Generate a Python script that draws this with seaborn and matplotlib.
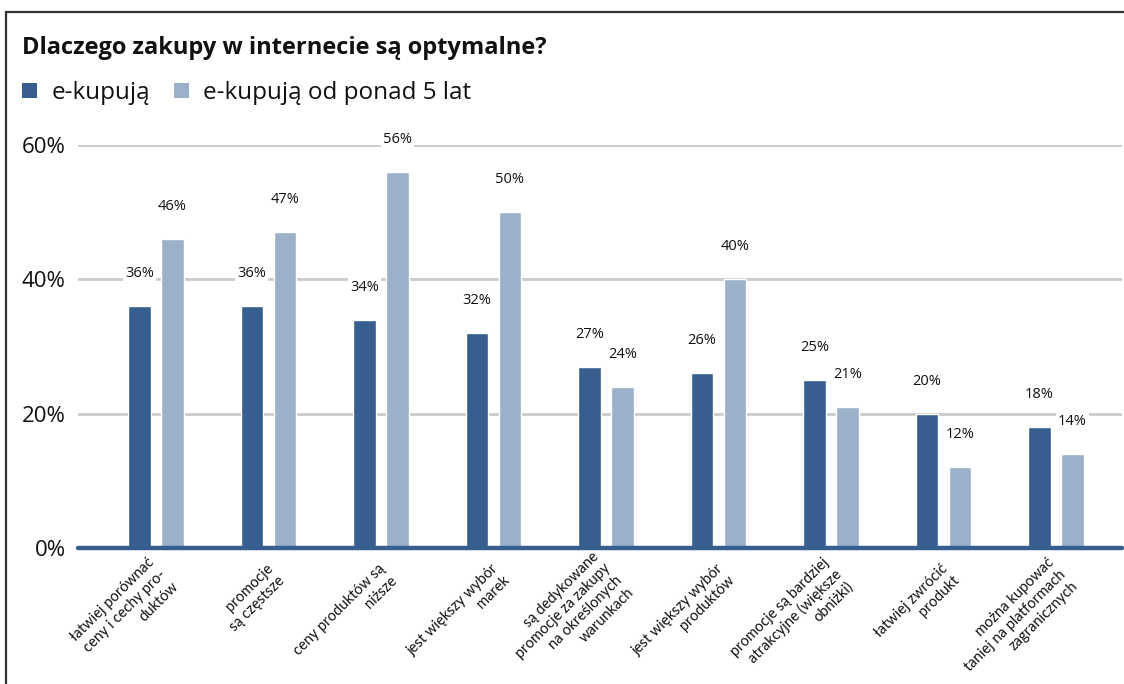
import matplotlib
matplotlib.use("Agg")
import matplotlib.pyplot as plt
from matplotlib.lines import Line2D
from matplotlib.patches import Patch
from matplotlib.transforms import ScaledTranslation
import pandas as pd
import seaborn as sns

categories = [
    "łatwiej porównać\nceny i cechy pro-\nduktów",
    "promocje\nsą częstsze",
    "ceny produktów są\nniższe",
    "jest większy wybór\nmarek",
    "są dedykowane\npromocje za zakupy\nna określonych\nwarunkach",
    "jest większy wybór\nproduktów",
    "promocje są bardziej\natrakcyjne (większe\nobniżki)",
    "łatwiej zwrócić\nprodukt",
    "można kupować\ntaniej na platformach\nzagranicznych",
]
series_names = ["e-kupują", "e-kupują od ponad 5 lat"]
e_kupuja = [36, 36, 34, 32, 27, 26, 25, 20, 18]
e_kupuja_5lat = [46, 47, 56, 50, 24, 40, 21, 12, 14]
y_ticks = [0, 20, 40, 60]
title = "Dlaczego zakupy w internecie są optymalne?"

DARK = "#365f8f"
LIGHT = "#9cb0ca"
GRID = "#cbcbcb"

df = pd.DataFrame({
    "kategoria": categories * 2,
    "grupa": [series_names[0]] * len(categories) + [series_names[1]] * len(categories),
    "procent": e_kupuja + e_kupuja_5lat,
})

sns.set_theme(style="white")
plt.rcParams["font.family"] = ["Open Sans", "DejaVu Sans"]

W, H = 1124, 684
fig = plt.figure(figsize=(W / 100, H / 100), dpi=100)
ax = fig.add_axes([78 / W, 1 - 548 / H, 1044 / W, (548 - 145) / H])

sns.barplot(
    data=df, x="kategoria", y="procent", hue="grupa",
    order=categories, hue_order=series_names,
    palette=[DARK, LIGHT], width=0.587, gap=0.33,
    saturation=1, legend=False, ax=ax,
)

ax.set_xlim(-0.693, 8.587)
ax.set_ylim(0, 60)
ax.set_yticks(y_ticks)
ax.set_yticklabels([f"{t}%" for t in y_ticks], fontsize=16, color="#111111")
ax.yaxis.grid(True, color=GRID, linewidth=2)
ax.set_axisbelow(True)
ax.tick_params(axis="y", length=0, pad=9)
ax.tick_params(axis="x", length=0, pad=17.5)
ax.set_xlabel("")
ax.set_ylabel("")
for s in ax.spines.values():
    s.set_visible(False)

ax.axhline(0, color=DARK, linewidth=3.2, zorder=5, clip_on=False)

# rotated category labels: right edge of each block sits just right of the group centre
ax.set_xticks(range(len(categories)))
ax.set_xticklabels(categories, rotation=45, ha="right", va="center",
                   rotation_mode="anchor", multialignment="right",
                   fontsize=10.5, linespacing=1.25, color="#111111",
                   family=["Lato", "DejaVu Sans"])
shift = ScaledTranslation(0.08, 0, fig.dpi_scale_trans)
for lab in ax.get_xticklabels():
    lab.set_transform(lab.get_transform() + shift)

for container, vals in zip(ax.containers, [e_kupuja, e_kupuja_5lat]):
    ax.bar_label(container, labels=[f"{v}%" for v in vals], padding=18,
                 fontsize=10.5, color="#111111",
                 bbox=dict(facecolor="white", edgecolor="none", pad=1.5))

fig.text(22 / W, 1 - 48 / H, title, fontsize=17, fontweight="bold",
         ha="left", va="center", color="#111111")

handles = [Patch(facecolor=DARK, edgecolor="none"), Patch(facecolor=LIGHT, edgecolor="none")]
fig.legend(handles, series_names, loc="center left",
           bbox_to_anchor=(22 / W, 1 - 93 / H), ncol=2, frameon=False,
           fontsize=17.5, handlelength=0.6, handleheight=0.6, borderpad=0,
           borderaxespad=0, handletextpad=0.6, columnspacing=1.0,
           labelcolor="#111111")

# frame around the graphic
fig.add_artist(Line2D([6 / W, 6 / W], [0, 1 - 12 / H], color="#333333", linewidth=1.6))
fig.add_artist(Line2D([6 / W, 1], [1 - 12 / H, 1 - 12 / H], color="#333333", linewidth=1.6))

fig.savefig("out.png", dpi=100, facecolor="white")
